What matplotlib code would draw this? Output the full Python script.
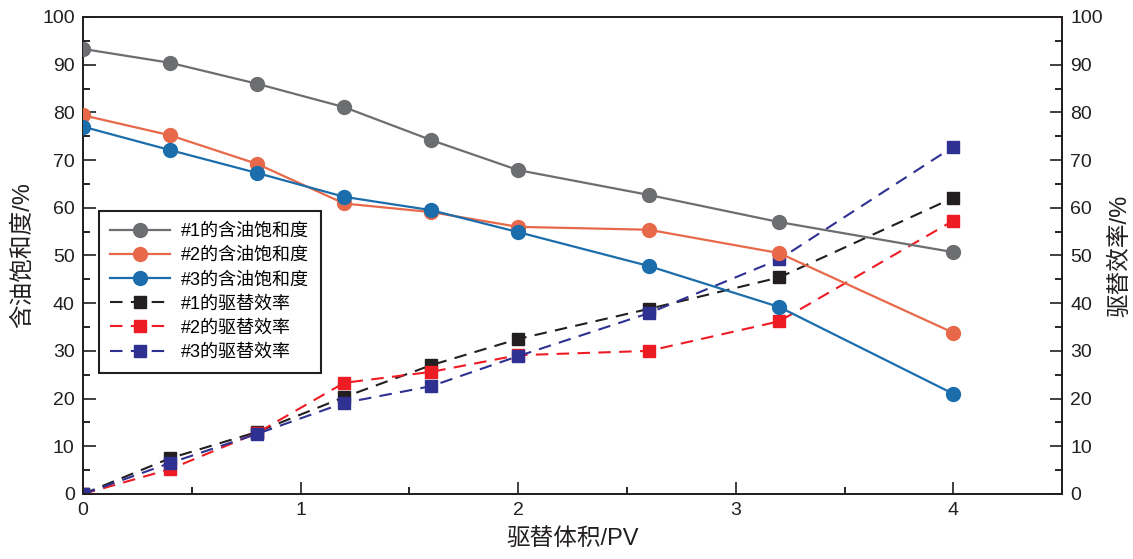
import matplotlib
matplotlib.use("Agg")
import matplotlib.pyplot as plt
from matplotlib.ticker import MultipleLocator

plt.rcParams['font.family'] = ['Liberation Sans', 'Noto Sans CJK SC', 'DejaVu Sans']

pv = [0, 0.4, 0.8, 1.2, 1.6, 2.0, 2.6, 3.2, 4.0]
so1 = [93.3, 90.4, 86.0, 81.1, 74.2, 67.9, 62.7, 57.0, 50.7]
so2 = [79.4, 75.2, 69.2, 60.9, 59.1, 56.0, 55.4, 50.5, 33.8]
so3 = [77.0, 72.1, 67.3, 62.3, 59.5, 54.9, 47.8, 39.2, 21.0]
ed1 = [0, 7.5, 13.0, 20.3, 27.0, 32.5, 38.8, 45.4, 62.1]
ed2 = [0, 5.2, 12.8, 23.3, 25.6, 29.1, 30.0, 36.2, 57.3]
ed3 = [0, 6.5, 12.6, 19.1, 22.6, 28.9, 37.9, 49.2, 72.8]

labels_so = ['#1的含油饱和度', '#2的含油饱和度', '#3的含油饱和度']
labels_ed = ['#1的驱替效率', '#2的驱替效率', '#3的驱替效率']
colors_so = ['#6d6e71', '#e8694a', '#1b6dab']
colors_ed = ['#231f20', '#ed1c24', '#2e3192']

fig = plt.figure(figsize=(11.33, 5.59), dpi=100)
ax = fig.add_axes([0.0733, 0.1163, 0.8641, 0.8533])
ax2 = ax.twinx()

handles = []
for y, lab, c in zip([so1, so2, so3], labels_so, colors_so):
    h, = ax.plot(pv, y, '-', color=c, lw=1.6, marker='o', ms=10, label=lab, zorder=3)
    handles.append(h)
for y, lab, c in zip([ed1, ed2, ed3], labels_ed, colors_ed):
    h, = ax2.plot(pv, y, '--', color=c, lw=1.5, marker='s', ms=9, label=lab,
                  dashes=(6, 4), zorder=3)
    handles.append(h)

for a in (ax, ax2):
    a.set_ylim(0, 100)
    a.yaxis.set_major_locator(MultipleLocator(10))
    a.yaxis.set_minor_locator(MultipleLocator(5))
    for s in a.spines.values():
        s.set_linewidth(1.3)
        s.set_color('#231f20')
ax.set_xlim(0, 4.5)
ax.xaxis.set_major_locator(MultipleLocator(1))
ax.xaxis.set_minor_locator(MultipleLocator(0.5))

ax.tick_params(axis='both', which='major', direction='in', length=9, width=1.2,
               labelsize=14, colors='#231f20', pad=6)
ax.tick_params(axis='both', which='minor', direction='in', length=5, width=1.2)
ax.tick_params(axis='x', top=False, which='both')
ax2.tick_params(axis='y', which='major', direction='in', length=9, width=1.2,
                labelsize=14, colors='#231f20', pad=6)
ax2.tick_params(axis='y', which='minor', direction='in', length=5, width=1.2)

ax.set_xlabel('驱替体积/PV', fontsize=17, color='#231f20', labelpad=6)
ax.set_ylabel('含油饱和度/%', fontsize=17, color='#231f20', labelpad=6)
ax2.set_ylabel('驱替效率/%', fontsize=17, color='#231f20', labelpad=4)

leg = ax.legend(handles=handles, loc='upper left', bbox_to_anchor=(0.016, 0.593),
                fontsize=13, frameon=True, fancybox=False, handlelength=3.3,
                borderpad=0.65, labelspacing=0.4, handletextpad=0.6,
                borderaxespad=0)
leg.get_frame().set_edgecolor('#231f20')
leg.get_frame().set_linewidth(1.5)
leg.get_frame().set_alpha(1)
leg.set_zorder(10)
ax.set_zorder(ax2.get_zorder() + 1)
ax.patch.set_visible(False)

fig.savefig('out.png', dpi=100)
